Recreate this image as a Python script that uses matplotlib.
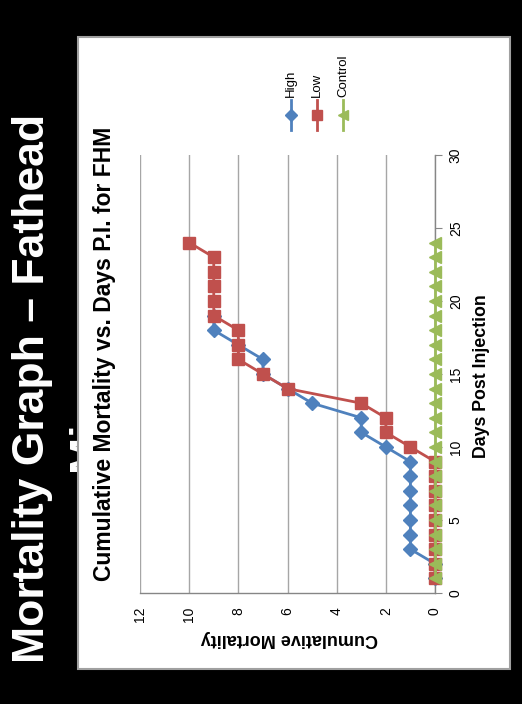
import matplotlib
matplotlib.use('Agg')
import matplotlib.pyplot as plt
from matplotlib.patches import Rectangle
from matplotlib.lines import Line2D

# ---- data ----
days_high = [1, 2, 3, 4, 5, 6, 7, 8, 9, 10, 11, 12, 13, 14, 15, 16, 17, 18, 19]
high = [0, 0, 1, 1, 1, 1, 1, 1, 1, 2, 3, 3, 5, 6, 7, 7, 8, 9, 9]
days_low = [1, 2, 3, 4, 5, 6, 7, 8, 9, 10, 11, 12, 13, 14, 15, 16, 17, 18, 19, 20, 21, 22, 23, 24]
low = [0, 0, 0, 0, 0, 0, 0, 0, 0, 1, 2, 2, 3, 6, 7, 8, 8, 8, 9, 9, 9, 9, 9, 10]
days_ctrl = [1, 2, 3, 4, 5, 6, 7, 8, 9, 10, 11, 12, 13, 14, 15, 16, 17, 18, 19, 20, 21, 22, 23, 24]
control = [0, 0, 0, 0, 0, 0, 0, 0, 0, 0, 0, 0, 0, 0, 0, 0, 0, 0, 0, 0, 0, 0, 0, 0]
series_names = ["High", "Low", "Control"]
mort_ticks = [0, 2, 4, 6, 8, 10, 12]
day_ticks = [0, 5, 10, 15, 20, 25, 30]

W, H = 522, 704
fig = plt.figure(figsize=(W / 100, H / 100), dpi=100, facecolor='black')

def fx(px):
    return px / W

def fy(py):
    return 1 - py / H

BLUE, RED, GREEN = '#4F81BD', '#C0504D', '#9BBB59'
GRID = '#A6A6A6'
AXC = '#868686'
CF = 'Liberation Sans'

# slide title (second line is mostly hidden by the chart panel)
fig.text(fx(33), fy(388), 'Mortality Graph – Fathead', rotation=90, color='white',
         fontsize=32, fontweight='bold', family='Liberation Sans',
         ha='center', va='center', zorder=0.5)
t2 = fig.text(fx(88), fy(388), 'Minnow', rotation=90, color='white',
              fontsize=32, fontweight='bold', family='Liberation Sans',
              ha='center', va='center', zorder=0.5)
clip_rect = Rectangle((0, 0), fx(78), 1, transform=fig.transFigure)
t2.set_clip_path(clip_rect)

# chart panel
fig.patches.append(Rectangle((fx(78), fy(669)), (510 - 78) / W, (669 - 37) / H,
                             transform=fig.transFigure, facecolor='white',
                             edgecolor='#A0A0A0', linewidth=1.5, zorder=0.8))

ax = fig.add_axes([fx(140), fy(593), (435 - 140) / W, (593 - 155) / H])
ax.set_zorder(2)
ax.patch.set_alpha(0)

ax.plot(high, days_high, color=BLUE, lw=2, marker='D', markersize=7.5,
        markerfacecolor=BLUE, markeredgecolor=BLUE, clip_on=False, zorder=3)
ax.plot(low, days_low, color=RED, lw=2, marker='s', markersize=8,
        markerfacecolor=RED, markeredgecolor=RED, clip_on=False, zorder=4)
ax.plot(control, days_ctrl, color=GREEN, lw=2, marker='<', markersize=8.5,
        markerfacecolor=GREEN, markeredgecolor=GREEN, clip_on=False, zorder=5)

ax.set_xlim(12, 0)
ax.set_ylim(0, 30)
ax.set_xticks(mort_ticks)
ax.set_yticks(day_ticks)
ax.set_xticklabels([str(t) for t in mort_ticks], rotation=90, family=CF, fontsize=10)
ax.set_yticklabels([str(t) for t in day_ticks], rotation=90, family=CF, fontsize=10,
                   va='center')
ax.yaxis.tick_right()
ax.tick_params(axis='x', length=0, pad=10)
ax.tick_params(axis='y', length=5, direction='out', color=AXC, pad=5)
ax.grid(axis='x', color=GRID, lw=1)
ax.set_axisbelow(True)
for s in ['top', 'left']:
    ax.spines[s].set_visible(False)
for s in ['right', 'bottom']:
    ax.spines[s].set_color(AXC)
    ax.spines[s].set_linewidth(1)

# chart texts
fig.text(fx(105), fy(354), 'Cumulative Mortality vs. Days P.I. for FHM', rotation=90,
         family=CF, fontsize=16.5, fontweight='bold', ha='center', va='center', zorder=3)
fig.text(fx(482), fy(376), 'Days Post Injection', rotation=90,
         family=CF, fontsize=12.8, fontweight='bold', ha='center', va='center', zorder=3)
fig.text(fx(289), fy(638), 'Cumulative Mortality', rotation=180,
         family=CF, fontsize=13, fontweight='bold', ha='center', va='center', zorder=3)

# legend (rotated)
leg = [(291, BLUE, 'D', 6), (317, RED, 's', 7), (343, GREEN, '<', 7)]
for (x, c, m, ms), name in zip(leg, series_names):
    fig.add_artist(Line2D([fx(x), fx(x)], [fy(130), fy(100)], color=c, lw=2,
                          transform=fig.transFigure, zorder=3))
    fig.add_artist(Line2D([fx(x)], [fy(115)], color=c, marker=m, markersize=ms,
                          markerfacecolor=c, markeredgecolor=c,
                          transform=fig.transFigure, zorder=3))
    fig.text(fx(x), fy(97), name, rotation=90, family=CF, fontsize=9.5,
             ha='center', va='bottom', zorder=3)

fig.savefig('out.png', dpi=100, facecolor='black')
